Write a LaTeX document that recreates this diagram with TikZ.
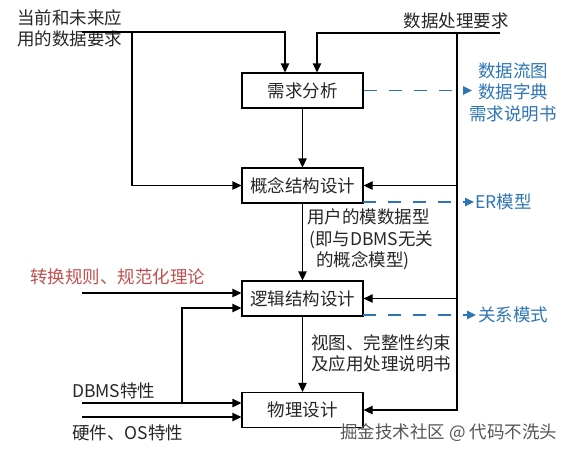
\documentclass[tikz,border=0pt]{standalone}
\usepackage{fontspec}
\setmainfont{Noto Sans CJK SC}
\usetikzlibrary{arrows.meta}
\definecolor{txt}{HTML}{262626}
\definecolor{bluec}{HTML}{2E75B6}
\definecolor{redc}{HTML}{C0504D}
\definecolor{wm}{HTML}{555555}
\begin{document}
\begin{tikzpicture}[x=1pt,y=-1pt,
  box/.style={draw, line width=1.3pt, minimum width=121pt, minimum height=35pt, inner sep=0pt, text=txt, font=\fontsize{17.5}{21.5}\selectfont},
  lbl/.style={inner sep=0pt, text=txt, font=\fontsize{17.5}{21.5}\selectfont, align=left},
  arr/.style={line width=1.3pt, -{Triangle[length=9pt,width=8.5pt]}},
  dasharr/.style={line width=1.6pt, bluec, dash pattern=on 13pt off 12pt, -{Triangle[length=9pt,width=8.5pt]}},
]
\useasboundingbox (0,0) rectangle (576,456);
% boxes
\node[box] (req) at (302.5,90.5) {需求分析};
\node[box] (concept) at (302.5,185.5) {概念结构设计};
\node[box] (logic) at (302.5,298.5) {逻辑结构设计};
\node[box] (phys) at (302.5,410) {物理设计};
% vertical flow
\draw[arr] (req) -- (concept);
\draw[arr] (concept) -- (logic);
\draw[arr] (logic) -- (phys);
% top-left input
\node[lbl, anchor=north west] (tl) at (17,9) {当前和未来应\\用的数据要求};
\coordinate (a0) at (82,32);
\coordinate (a1) at (132,32);
\coordinate (a2) at (285,32);
\draw[arr] (a0) -- (a2) -- (a2 |- req.north);
\draw[arr] (a1) |- (concept.west);
% top-right input
\node[lbl] (tr) at (456,21) {数据处理要求};
\coordinate (b0) at (500,33);
\coordinate (b1) at (457,33);
\coordinate (b2) at (317,33);
\draw[arr] (b0) -- (b2) -- (b2 |- req.north);
\draw[arr] (b1) |- (phys.east);
\draw[arr] (b1 |- concept.east) -- (concept.east);
\draw[arr] (b1 |- logic.east) -- (logic.east);
% dashed outputs
\coordinate (c1) at (472,90.5);
\draw[dasharr] (req.east) -- (c1);
\node[lbl, text=bluec, align=center] (out1) at (513,92) {数据流图\\数据字典\\需求说明书};
\coordinate (c2s) at (363,202);
\coordinate (c2) at (474,202);
\draw[dasharr] (c2s) -- (c2);
\node[lbl, text=bluec, anchor=west] (out2) at (475,202) {ER模型};
\coordinate (c3s) at (363,315);
\coordinate (c3) at (476,315);
\draw[dasharr] (c3s) -- (c3);
\node[lbl, text=bluec, anchor=west] (out3) at (478,315) {关系模式};
% middle labels
\node[lbl, anchor=north west] (m1) at (307,209) {用户的模数据型\\\hspace{2pt}(即与DBMS无关\\\hspace{9pt}的概念模型)};
\node[lbl, anchor=north west] (m2) at (311,334) {视图、完整性约束\\及应用处理说明书};
% red input
\node[lbl, text=redc, anchor=west] (red) at (30,277) {转换规则、规范化理论};
\coordinate (d0) at (82,293);
\draw[arr] (d0) -- (d0 -| logic.west);
% bottom-left inputs
\node[lbl, anchor=west] (dbms) at (72,391) {DBMS特性};
\node[lbl, anchor=west] (hw) at (72,433) {硬件、OS特性};
\coordinate (e0) at (82,403);
\coordinate (e1) at (182,403);
\coordinate (e2) at (182,308);
\draw[arr] (e0) -- (e0 -| phys.west);
\draw[arr] (e1) -- (e2) -- (e2 -| logic.west);
\coordinate (f0) at (82,417);
\draw[arr] (f0) -- (f0 -| phys.west);
% watermark
\node[lbl, text=wm, anchor=west] (wmk) at (340,433) {掘金技术社区 @ 代码不洗头};
\end{tikzpicture}
\end{document}
